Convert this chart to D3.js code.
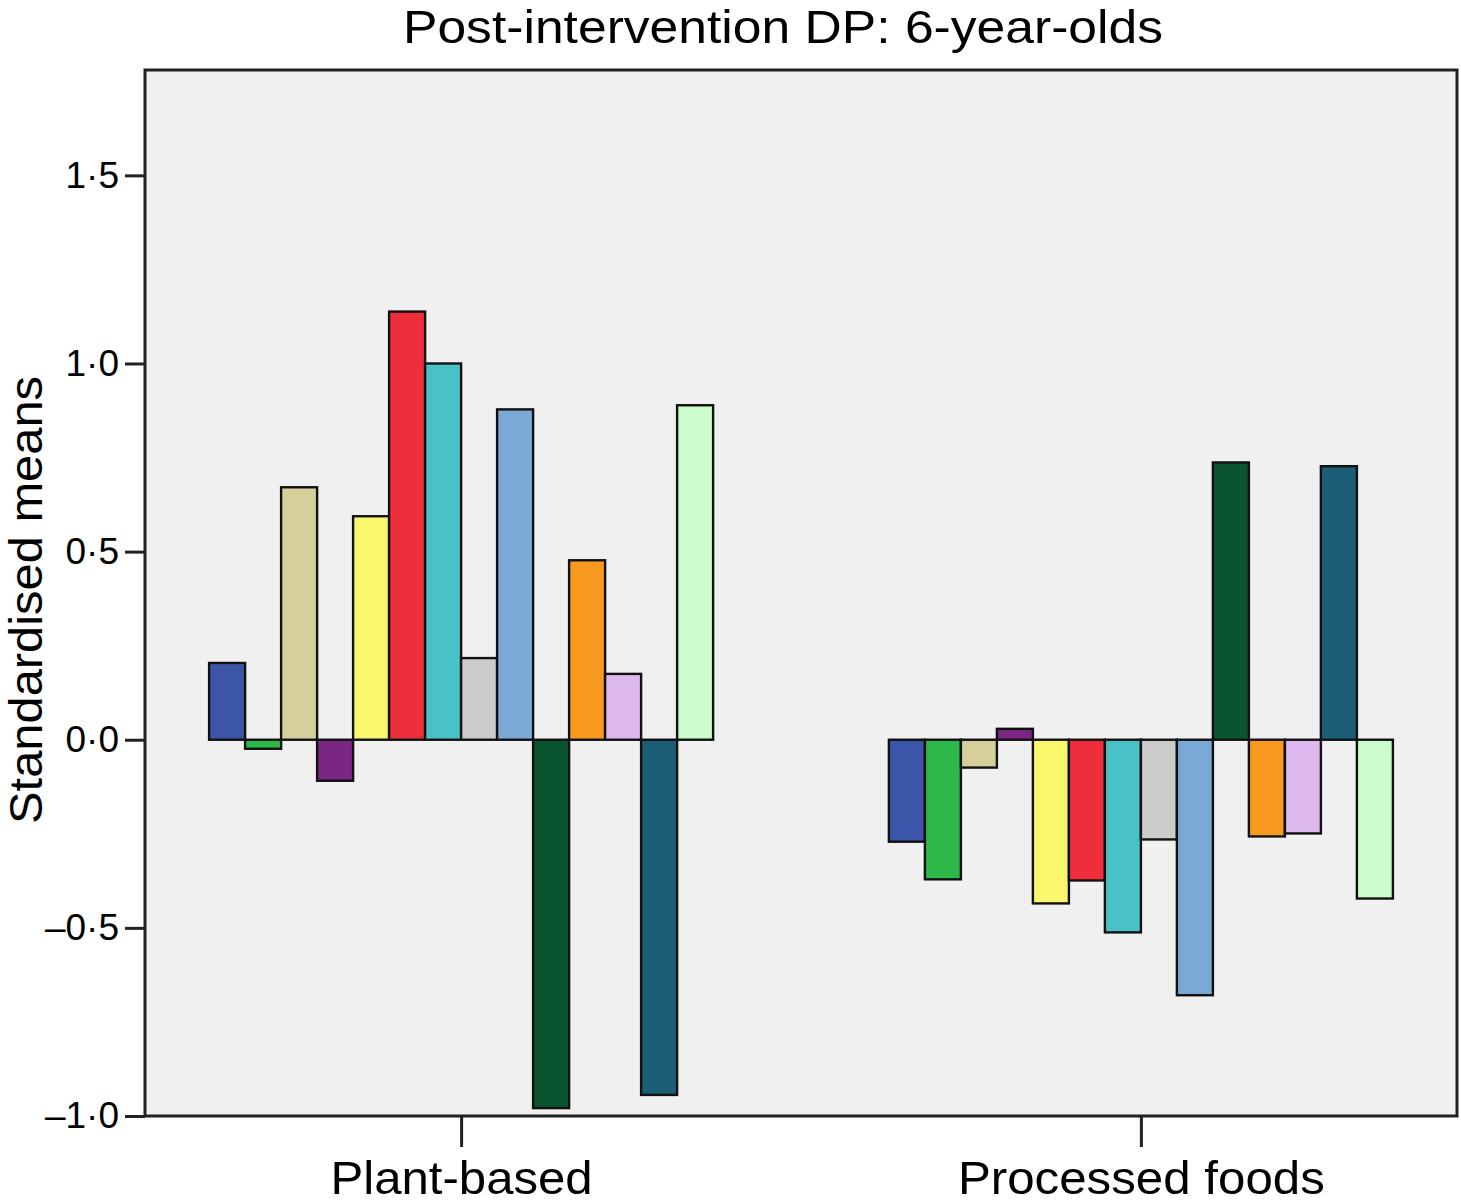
<!DOCTYPE html>
<html>
<head>
<meta charset="utf-8">
<script src="https://cdn.jsdelivr.net/npm/d3@7"></script>
<style>
  body { margin: 0; background: #fff; }
  text { font-family: "Liberation Sans", Arial, Helvetica, sans-serif; fill: #000; }
</style>
</head>
<body>
<svg id="chart" width="1461" height="1203"></svg>
<script>
// ---- data ----
const categories = ["Plant-based", "Processed foods"];
const seriesNames = ["Series 1","Series 2","Series 3","Series 4","Series 5","Series 6","Series 7",
                     "Series 8","Series 9","Series 10","Series 11","Series 12","Series 13","Series 14"];
const seriesColors = ["#3d55a8","#2eb84a","#d5d09a","#7b2682","#fbf76d","#ee2f3b","#48c2c6",
                      "#cccccc","#7aa9d6","#0a5530","#f89a1f","#ddb8ef","#1b5e76","#ccfccc"];
const plantBased     = [0.204, -0.024, 0.671, -0.109, 0.594, 1.138, 1.000, 0.217, 0.878, -0.979, 0.477, 0.175, -0.944, 0.889];
const processedFoods = [-0.271, -0.371, -0.074, 0.029, -0.435, -0.374, -0.512, -0.265, -0.679, 0.737, -0.257, -0.249, 0.727, -0.422];
const yTicks = [-1.0, -0.5, 0.0, 0.5, 1.0, 1.5];
const yTickLabels = ["\u20131\u00b70", "\u20130\u00b75", "0\u00b70", "0\u00b75", "1\u00b70", "1\u00b75"];
const titleText = "Post-intervention DP: 6-year-olds";
const yLabel = "Standardised means";

const values = [plantBased, processedFoods];

// ---- layout ----
const svg = d3.select("#chart");
const L = 145, R = 1457, T = 70, B = 1116;

const y = d3.scaleLinear().domain([-1.0, 1.78]).range([B, T]);
const x = d3.scalePoint().domain(categories).range([L, R]).padding(0.465);
const inner = d3.scaleBand().domain(seriesNames).range([-252, 252]).paddingInner(0);

// plot background
svg.append("rect")
  .attr("x", L).attr("y", T).attr("width", R - L).attr("height", B - T)
  .attr("fill", "#f0f0f0");

// bars
const g = svg.append("g");
categories.forEach((cat, ci) => {
  const grp = g.append("g").attr("transform", `translate(${x(cat)},0)`);
  grp.selectAll("rect")
    .data(values[ci].map((v, i) => ({ v, i })))
    .join("rect")
    .attr("x", d => inner(seriesNames[d.i]))
    .attr("width", inner.bandwidth())
    .attr("y", d => Math.min(y(d.v), y(0)))
    .attr("height", d => Math.abs(y(d.v) - y(0)))
    .attr("fill", d => seriesColors[d.i])
    .attr("stroke", "#111")
    .attr("stroke-width", 2.4);
});

// frame
svg.append("rect")
  .attr("x", L).attr("y", T).attr("width", R - L).attr("height", B - T)
  .attr("fill", "none").attr("stroke", "#222").attr("stroke-width", 3);

// y axis
const yAxis = d3.axisLeft(y).tickValues(yTicks)
  .tickFormat((d, i) => yTickLabels[i]).tickSize(20).tickPadding(6);
const ya = svg.append("g").attr("transform", `translate(${L},0)`).call(yAxis);
ya.select(".domain").remove();
ya.selectAll(".tick line").attr("stroke", "#222").attr("stroke-width", 3);
ya.selectAll(".tick text").attr("font-size", 37).attr("font-family", "Liberation Sans, Arial, sans-serif");

// x axis
const xAxis = d3.axisBottom(x).tickSize(31).tickPadding(14);
const xa = svg.append("g").attr("transform", `translate(0,${B})`).call(xAxis);
xa.select(".domain").remove();
xa.selectAll(".tick line").attr("stroke", "#222").attr("stroke-width", 3);
const xLabelWidths = [262, 367];
xa.selectAll(".tick text")
  .attr("font-size", 47)
  .attr("font-family", "Liberation Sans, Arial, sans-serif")
  .attr("dy", null)
  .attr("y", 78)
  .attr("textLength", (d, i) => xLabelWidths[i])
  .attr("lengthAdjust", "spacingAndGlyphs");

// title
svg.append("text")
  .attr("x", 783).attr("y", 43)
  .attr("text-anchor", "middle").attr("font-size", 47)
  .attr("textLength", 760).attr("lengthAdjust", "spacingAndGlyphs")
  .text(titleText);

// y label
svg.append("text")
  .attr("transform", `translate(42,${600}) rotate(-90)`)
  .attr("text-anchor", "middle").attr("font-size", 46)
  .attr("textLength", 448).attr("lengthAdjust", "spacingAndGlyphs")
  .text(yLabel);
</script>
</body>
</html>
